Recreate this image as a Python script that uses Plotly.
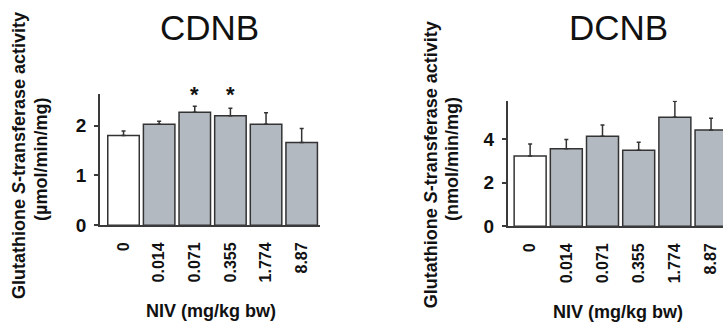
import plotly.graph_objects as go

doses = ["0", "0.014", "0.071", "0.355", "1.774", "8.87"]
cdnb_mean = [1.80, 2.03, 2.27, 2.20, 2.03, 1.66]
cdnb_sd = [0.09, 0.06, 0.12, 0.15, 0.23, 0.28]
cdnb_sig = ["", "", "*", "*", "", ""]
dcnb_mean = [3.24, 3.57, 4.15, 3.50, 5.02, 4.43]
dcnb_sd = [0.55, 0.43, 0.52, 0.37, 0.74, 0.55]

W, H = 723, 329
FONT = "Liberation Sans, Arial, Helvetica, sans-serif"
GRAY = "#b3b9c0"
EDGE = "#333333"
AXC = "#3a3a3a"
fills = ["white"] + [GRAY] * 5

fig = go.Figure()
for i, (m, s) in enumerate([(cdnb_mean, cdnb_sd), (dcnb_mean, dcnb_sd)]):
    fig.add_trace(go.Bar(
        x=doses, y=m,
        xaxis="x" if i == 0 else "x2", yaxis="y" if i == 0 else "y2",
        marker=dict(color=fills, line=dict(color=EDGE, width=1.5)),
        error_y=dict(type="data", symmetric=False, array=s, arrayminus=[0] * len(s),
                     color=EDGE, thickness=1.5, width=2),
        showlegend=False, hoverinfo="x+y",
    ))

def px(x):
    return x / W

def py(y):
    return 1 - y / H

xcommon = dict(type="category", showline=True, linecolor=AXC, linewidth=1.5,
               ticks="", tickangle=-90, showgrid=False, zeroline=False,
               tickfont=dict(family=FONT, size=16, color="#111", weight="bold"),
               ticklabelstandoff=9)
ycommon = dict(showline=True, linecolor=AXC, linewidth=1.5, ticks="outside",
               ticklen=4, tickwidth=1.5, tickcolor=AXC, showgrid=False, zeroline=False,
               tickfont=dict(family=FONT, size=19, color="#111", weight="bold"),
               ticklabelstandoff=4)

fig.update_layout(
    width=W, height=H, margin=dict(l=0, r=0, t=0, b=0),
    paper_bgcolor="white", plot_bgcolor="white", bargap=0.116,
    xaxis=dict(xcommon, domain=[px(100), px(319.5)], range=[-0.66, 5.5], anchor="y"),
    yaxis=dict(ycommon, domain=[1 - 233 / H, 1 - 97 / H], range=[0, 2.64],
               tickvals=[0, 1, 2], anchor="x"),
    xaxis2=dict(xcommon, domain=[px(507.7), 1.0], range=[-0.62, 5.33], anchor="y2"),
    yaxis2=dict(ycommon, domain=[1 - 234 / H, 1 - 104.3 / H], range=[0, 5.78],
                tickvals=[0, 2, 4], anchor="x2"),
)

ann = []
def txt(x, y, t, size, bold=True, angle=0):
    ann.append(dict(x=px(x), y=py(y), xref="paper", yref="paper", text=t,
                    showarrow=False, textangle=angle, xanchor="center", yanchor="middle",
                    font=dict(family=FONT, size=size, color="#111",
                              weight="bold" if bold else "normal")))

txt(209, 28.5, "CDNB", 35, bold=False)
txt(618, 28.5, "DCNB", 35, bold=False)
txt(19, 161.5, "Glutathione <i>S</i>-transferase activity", 18, angle=-90)
txt(41.5, 165, "(µmol/min/mg)", 18, angle=-90)
txt(430.5, 170.5, "Glutathione <i>S</i>-transferase activity", 18, angle=-90)
txt(452.5, 165, "(nmol/min/mg)", 18, angle=-90)
txt(211, 322, "NIV (mg/kg bw)", 18)
txt(617.5, 322.5, "NIV (mg/kg bw)", 18)

for idx, s in enumerate(cdnb_sig):
    if s:
        ann.append(dict(x=idx, y=2.6, xref="x", yref="y", text=s, showarrow=False,
                        yanchor="middle", font=dict(family=FONT, size=22, color="#111",
                                                    weight="bold"), yshift=1))

fig.update_layout(annotations=ann)
fig.write_html("out.html", config={"displayModeBar": False},
               post_script="document.body.style.margin='0px';")
